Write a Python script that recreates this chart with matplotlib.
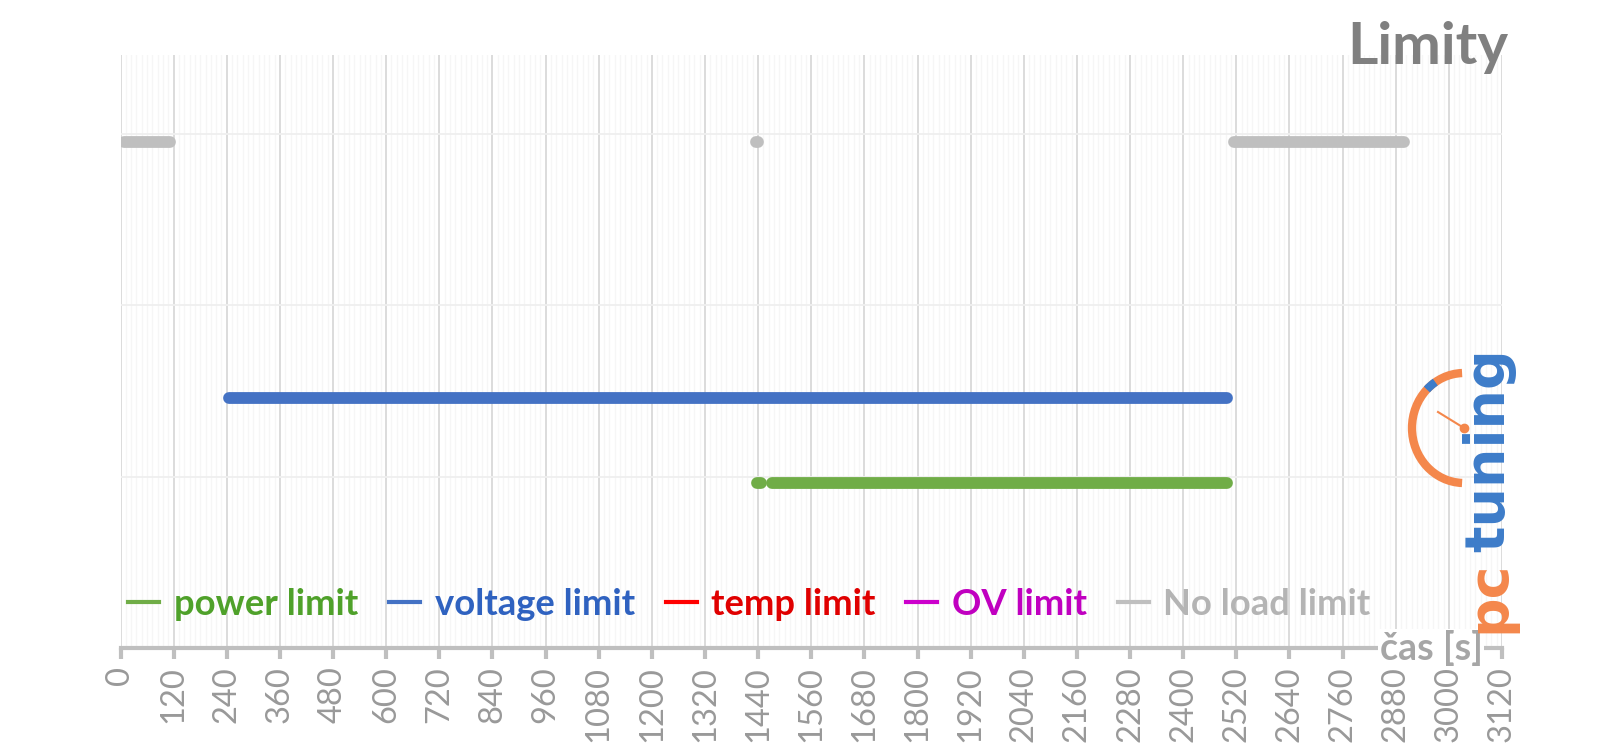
import matplotlib
matplotlib.use("Agg")
import matplotlib.pyplot as plt
from matplotlib.lines import Line2D
from matplotlib.patches import Arc
import numpy as np

plt.rcParams['font.family'] = ['Lato', 'DejaVu Sans']

# limit series: (start, end) time spans in seconds, plus the level they are drawn at
power_spans = [(1437, 1447), (1471, 2500)]
power_level = 0.96
voltage_spans = [(246, 2500)]
voltage_level = 1.46
temp_spans = []
ov_spans = []
noload_spans = [(8, 112), (1436, 1440), (2514, 2898)]
noload_level = 2.95

names = ['power limit', 'voltage limit', 'temp limit', 'OV limit', 'No load limit']
line_cols = ['#70ad47', '#4472c4', '#ff0000', '#cc00cc', '#bfbfbf']
text_cols = ['#4fa12a', '#2f62c0', '#e00000', '#c000c0', '#b4b4b4']

x_ticks = np.arange(0, 3121, 120)

fig = plt.figure(figsize=(16, 7.45), dpi=100)
ax = fig.add_axes([120.5/1600, 1-648/745, 1381.5/1600, 593/745])

def draw(spans, level, col):
    for a, b in spans:
        ax.plot([a, b], [level, level], color=col, lw=8.5, solid_capstyle='round', zorder=3)

draw(power_spans, power_level, line_cols[0])
draw(voltage_spans, voltage_level, line_cols[1])
draw(noload_spans, noload_level, line_cols[4])

ax.set_xlim(0, 3120)
ax.set_ylim(0, 3.46)
ax.set_xticks(x_ticks)
ax.set_xticklabels([str(t) for t in x_ticks], rotation=90, fontsize=23.5, color='#999999')
ax.set_xticks(np.arange(0, 3121, 12), minor=True)
ax.set_yticks([1, 2, 3])
ax.tick_params(axis='y', left=False, labelleft=False)
ax.tick_params(axis='x', which='major', length=8, width=3, color='#bfbfbf', pad=5)
ax.tick_params(axis='x', which='minor', length=0)
ax.grid(axis='x', which='major', color='#d9d9d9', lw=1.3, zorder=0)
ax.grid(axis='x', which='minor', color='#f6f6f6', lw=1.0, zorder=0)
ax.grid(axis='y', which='major', color='#efefef', lw=1.3, zorder=0)
for s in ['top', 'right', 'left']:
    ax.spines[s].set_visible(False)
ax.spines['bottom'].set_color('#bfbfbf')
ax.spines['bottom'].set_linewidth(3)

handles = [Line2D([], [], color=c, lw=3) for c in line_cols]
leg = ax.legend(handles, names, ncol=5, loc='center left', bbox_to_anchor=(-0.018, 0.074),
                frameon=False, handlelength=0.85, handletextpad=0.4,
                columnspacing=0.85, prop={'weight': 'bold', 'size': 26.2})
for t, c in zip(leg.get_texts(), text_cols):
    t.set_color(c)

ax.text(0.986, 0.0, 'čas [s]', transform=ax.transAxes, ha='right', va='center',
        fontsize=27, fontweight='bold', color='#a6a6a6', zorder=5,
        bbox=dict(facecolor='white', edgecolor='none', pad=1))

fig.text(1508/1600, 1-48/745, 'Limity', ha='right', va='center', fontsize=42,
         fontweight='bold', color='#808080')

# pctuning logo
fig.text(1489/1600, 1-633/745, 'pc', rotation=90, ha='center', va='bottom',
         fontsize=40, fontweight='bold', color='#f4874b', family='DejaVu Sans')
fig.text(1489/1600, 1-552/745, 'tuning', rotation=90, ha='center', va='bottom',
         fontsize=40, fontweight='bold', color='#3d7cc9', family='DejaVu Sans')
lg = fig.add_axes([0, 0, 1, 1], zorder=10)
lg.set_xlim(0, 1600)
lg.set_ylim(0, 745)
lg.axis('off')
cx, cy = 1464, 745-428
lg.add_patch(Arc((cx, cy), 104, 110, theta1=92, theta2=268, color='#f4874b', lw=6))
lg.add_patch(Arc((cx, cy), 104, 110, theta1=122, theta2=134, color='#3d7cc9', lw=6))
lg.plot([cx, cx-26], [cy, cy+16], color='#f4874b', lw=1.5)
lg.plot([cx], [cy], 'o', color='#f4874b', ms=6)

fig.savefig('out.png', dpi=100)
